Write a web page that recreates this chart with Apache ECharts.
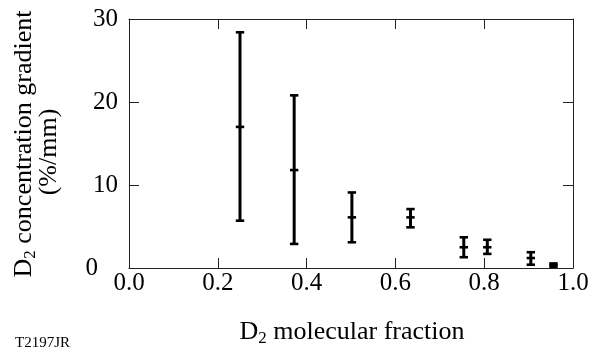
<!DOCTYPE html>
<html>
<head>
<meta charset="utf-8">
<script src="https://cdn.jsdelivr.net/npm/echarts@6/dist/echarts.min.js"></script>
<style>html,body{margin:0;padding:0;background:#fff}#c{width:600px;height:352px}</style>
</head>
<body>
<div id="c"></div>
<script>
// D2 molecular fraction (x)
const fractions = [0.25, 0.372, 0.502, 0.634, 0.754, 0.807, 0.905, 0.956];
// concentration gradient (%/mm): central value, lower and upper error limits
const gradCenter = [17.0, 11.8, 6.1, 6.1, 2.5, 2.5, 1.2, 0.35];
const gradLow    = [5.7, 2.9, 3.1, 4.9, 1.3, 1.7, 0.4, 0.15];
const gradHigh   = [28.4, 20.8, 9.1, 7.1, 3.7, 3.4, 1.9, 0.55];
const xTicks = [0, 0.2, 0.4, 0.6, 0.8, 1.0];
const yTicks = [0, 10, 20, 30];

const FONT = 'Liberation Serif';
const data = fractions.map((x, i) => [x, gradLow[i], gradCenter[i], gradHigh[i]]);

const chart = echarts.init(document.getElementById('c'), null, {renderer: 'canvas'});
const axisLine = {show: true, onZero: false, lineStyle: {color: '#222', width: 1}};
const ticks = {show: true, inside: true, length: 10, lineStyle: {color: '#222', width: 1}};

chart.setOption({
  animation: false,
  backgroundColor: '#fff',
  grid: {left: 129, right: 27, top: 19, bottom: 84},
  xAxis: [
    {type: 'value', position: 'bottom', min: xTicks[0], max: xTicks[xTicks.length - 1], interval: 0.2,
     axisLine, axisTick: ticks, splitLine: {show: false},
     axisLabel: {margin: 3, color: '#000', fontFamily: FONT, fontSize: 25,
                 formatter: v => v.toFixed(1)}},
    {type: 'value', position: 'top', min: xTicks[0], max: xTicks[xTicks.length - 1], interval: 0.2,
     axisLine, axisTick: ticks, splitLine: {show: false}, axisLabel: {show: false}}
  ],
  yAxis: [
    {type: 'value', position: 'left', min: yTicks[0], max: yTicks[yTicks.length - 1], interval: 10,
     axisLine, axisTick: ticks, splitLine: {show: false},
     axisLabel: {margin: 11, color: '#000', fontFamily: FONT, fontSize: 25,
                 formatter: v => v === 0 ? '{z|0}' : String(v),
                 rich: {z: {fontFamily: FONT, fontSize: 25, color: '#000', padding: [0, 20, 0, 0]}}}},
    {type: 'value', position: 'right', min: yTicks[0], max: yTicks[yTicks.length - 1], interval: 10,
     axisLine, axisTick: ticks, splitLine: {show: false}, axisLabel: {show: false}}
  ],
  series: [{
    type: 'custom',
    xAxisIndex: 0, yAxisIndex: 0,
    data: data,
    renderItem: function (params, api) {
      const x = api.value(0);
      const lo = api.coord([x, api.value(1)]);
      const ce = api.coord([x, api.value(2)]);
      const hi = api.coord([x, api.value(3)]);
      const h = 4.2;
      const st = {stroke: '#000', lineWidth: 2.6};
      return {type: 'group', children: [
        {type: 'line', shape: {x1: lo[0], y1: lo[1], x2: hi[0], y2: hi[1]}, style: Object.assign({}, st, {lineWidth: 3})},
        {type: 'line', shape: {x1: hi[0] - h, y1: hi[1], x2: hi[0] + h, y2: hi[1]}, style: st},
        {type: 'line', shape: {x1: lo[0] - h, y1: lo[1], x2: lo[0] + h, y2: lo[1]}, style: st},
        {type: 'line', shape: {x1: ce[0] - h, y1: ce[1], x2: ce[0] + h, y2: ce[1]}, style: st}
      ]};
    }
  }],
  graphic: [
    {type: 'text', x: 352, y: 333, style: {
      text: '{n|D}{s|2}{n| molecular fraction}', align: 'center', verticalAlign: 'middle',
      rich: {
        n: {fontFamily: FONT, fontSize: 26, color: '#000', lineHeight: 28, verticalAlign: 'top'},
        s: {fontFamily: FONT, fontSize: 17, color: '#000', lineHeight: 17, verticalAlign: 'bottom'}
      }}},
    {type: 'text', x: 25, y: 144, rotation: Math.PI / 2, style: {
      text: '{n|D}{s|2}{n| concentration gradient}', align: 'center', verticalAlign: 'middle',
      rich: {
        n: {fontFamily: FONT, fontSize: 26, color: '#000', lineHeight: 28, verticalAlign: 'top'},
        s: {fontFamily: FONT, fontSize: 17, color: '#000', lineHeight: 17, verticalAlign: 'bottom'}
      }}},
    {type: 'text', x: 49, y: 152, rotation: Math.PI / 2, style: {
      text: '(%/mm)', align: 'center', verticalAlign: 'middle',
      fontFamily: FONT, fontSize: 26, fill: '#000'}},
    {type: 'text', x: 15, y: 343, style: {
      text: 'T2197JR', align: 'left', verticalAlign: 'middle',
      fontFamily: FONT, fontSize: 15, fill: '#000'}}
  ]
});
</script>
</body>
</html>
